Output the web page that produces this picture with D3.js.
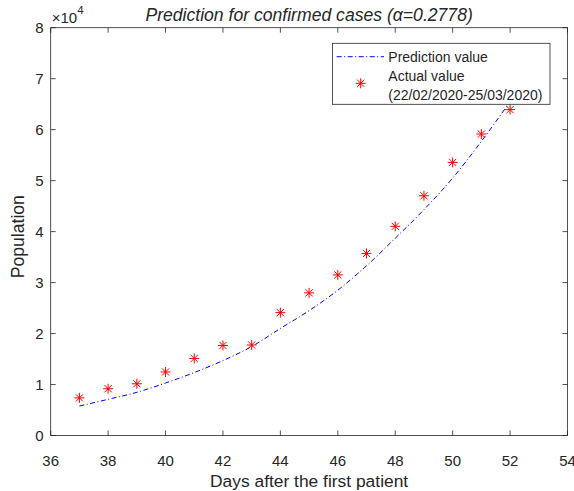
<!DOCTYPE html>
<html><head><meta charset="utf-8">
<script src="https://cdn.jsdelivr.net/npm/d3@7"></script>
<style>body{margin:0;background:#fff}svg{display:block}text{font-family:"Liberation Sans",Arial,sans-serif;fill:#262626}</style>
</head><body>
<svg id="c" width="574" height="491"></svg>
<script>
const days = [37,38,39,40,41,42,43,44,45,46,47,48,49,50,51,52];
const actualValues = [7375,9172,10149,12462,15113,17660,17750,24100,27980,31506,35713,41035,47021,53578,59138,63927];
const predictionValues = [5780,7100,8470,10300,12350,14700,17450,21000,24500,28500,33300,38700,44300,50500,57700,65500];
const xTicks = [36,38,40,42,44,46,48,50,52,54];
const yTicks = [0,1,2,3,4,5,6,7,8];
const titleText = "Prediction for confirmed cases (";
const alphaText = "α=0.2778)";
const xLabel = "Days after the first patient";
const yLabel = "Population";
const legendLabels = ["Prediction value","Actual value","(22/02/2020-25/03/2020)"];

const svg = d3.select("#c");
const L=50.7, R=567.5, T=27.7, B=435.5;
const x = d3.scaleLinear().domain([36,54]).range([L,R]);
const y = d3.scaleLinear().domain([0,80000]).range([B,T]);
const axCol="#262626";

// prediction line
const line = d3.line().x((d,i)=>x(days[i])).y(d=>y(d)).curve(d3.curveMonotoneX);
svg.append("path").attr("d",line(predictionValues)).attr("fill","none")
  .attr("stroke","#0000ff").attr("stroke-width",1).attr("stroke-dasharray","5,2.5,1,2.5");

// star markers
function star(g,cx,cy){
  const r=5, d=3.6;
  g.append("path").attr("d",`M${cx-r},${cy}H${cx+r}M${cx},${cy-r}V${cy+r}M${cx-d},${cy-d}L${cx+d},${cy+d}M${cx-d},${cy+d}L${cx+d},${cy-d}`)
   .attr("stroke","#ff0000").attr("stroke-width",1).attr("fill","none");
}
const mg = svg.append("g");
actualValues.forEach((v,i)=>star(mg,x(days[i]),y(v)));

// axes box
const ag = svg.append("g");
ag.append("rect").attr("x",L).attr("y",T).attr("width",R-L).attr("height",B-T)
  .attr("fill","none").attr("stroke",axCol).attr("stroke-width",0.8);
const tl=5;
xTicks.forEach(t=>{
  const px=x(t);
  ag.append("line").attr("x1",px).attr("x2",px).attr("y1",B).attr("y2",B-tl).attr("stroke",axCol).attr("stroke-width",0.8);
  ag.append("line").attr("x1",px).attr("x2",px).attr("y1",T).attr("y2",T+tl).attr("stroke",axCol).attr("stroke-width",0.8);
  ag.append("text").attr("x",px).attr("y",B+30).attr("text-anchor","middle").attr("font-size",15).text(t);
});
yTicks.forEach(t=>{
  const py=y(t*10000);
  ag.append("line").attr("x1",L).attr("x2",L+tl).attr("y1",py).attr("y2",py).attr("stroke",axCol).attr("stroke-width",0.8);
  ag.append("line").attr("x1",R).attr("x2",R-tl).attr("y1",py).attr("y2",py).attr("stroke",axCol).attr("stroke-width",0.8);
  ag.append("text").attr("x",L-7).attr("y",py+5.5).attr("text-anchor","end").attr("font-size",15).text(t);
});
// exponent
const ex = svg.append("text").attr("x",51.7).attr("y",23.3).attr("font-size",15);
ex.append("tspan").text("×10");
ex.append("tspan").attr("font-size",11.5).attr("dy",-9.5).text("4");

// title
const tt = svg.append("text").attr("x",(L+R)/2).attr("y",21).attr("text-anchor","middle")
  .attr("font-size",17.6).attr("font-style","italic");
tt.append("tspan").text(titleText);
tt.append("tspan").text(alphaText);

// axis labels
svg.append("text").attr("x",(L+R)/2).attr("y",487).attr("text-anchor","middle").attr("font-size",17.4).text(xLabel);
svg.append("text").attr("transform",`translate(24,${236.7}) rotate(-90)`).attr("text-anchor","middle").attr("font-size",17.6).text(yLabel);

// legend
const lg = svg.append("g");
lg.append("rect").attr("x",332.5).attr("y",43.3).attr("width",217.5).attr("height",61)
  .attr("fill","#fff").attr("stroke",axCol).attr("stroke-width",0.8);
lg.append("line").attr("x1",336.7).attr("x2",384).attr("y1",56.7).attr("y2",56.7)
  .attr("stroke","#0000ff").attr("stroke-width",1).attr("stroke-dasharray","5,2.5,1,2.5");
star(lg,360.7,83.3);
legendLabels.forEach((s,i)=>{
  lg.append("text").attr("x",388.3).attr("y",56.7+5+i*19.2).attr("font-size",14).text(s);
});
</script>
</body></html>
